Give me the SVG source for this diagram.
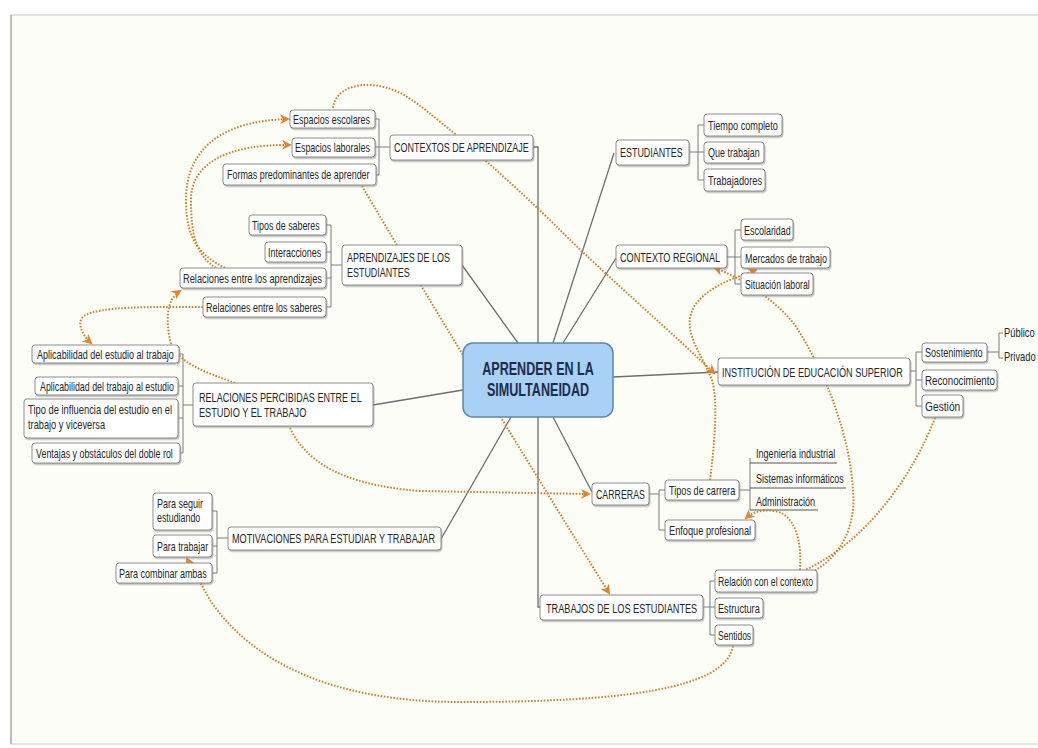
<svg xmlns="http://www.w3.org/2000/svg" width="1038" height="748" viewBox="0 0 1038 748">
<defs>
<style>
.n rect{fill:#fff;stroke:#8c8c8c;stroke-width:1;filter:url(#sh)}
text{font-family:"Liberation Sans",Arial,sans-serif;fill:#262626;font-size:13px}
.br{fill:none;stroke:#7a7a7a;stroke-width:1}
.ul{fill:none;stroke:#555;stroke-width:1}
.ln{fill:none;stroke:#6e6e6e;stroke-width:1.3}
.dt{fill:none;stroke:#c6842f;stroke-width:2;stroke-dasharray:1.6 1.6}
.ar{marker-end:url(#ah)}
.ct{font-size:19px;font-weight:bold;fill:#1c2c4c}
</style>
<filter id="sh" x="-5%" y="-20%" width="115%" height="160%"><feDropShadow dx="1" dy="1.5" stdDeviation="0.7" flood-color="#888" flood-opacity="0.55"/></filter>
<marker id="ah" viewBox="0 0 10 10" refX="8" refY="5" markerWidth="5" markerHeight="5" orient="auto" markerUnits="strokeWidth"><path d="M0,0 L10,5 L0,10 L3,5 Z" fill="#e5822a"/></marker>
</defs>
<rect x="0" y="0" width="1038" height="748" fill="#ffffff"/>
<rect x="11" y="15" width="1040" height="729" fill="#fdfdf8" stroke="#dcdcdc" stroke-width="1.5"/>
<line x1="11" y1="15" x2="11" y2="744" stroke="#bdbdbd" stroke-width="2"/>

<g id="connectors">
<path class="ln" d="M533,147 H538 V607 H540"/>
<path class="ln" d="M462,265 L518,343"/>
<path class="ln" d="M614,153 L553,343"/>
<path class="ln" d="M616,258 L563,343"/>
<path class="ln" d="M373,405 L463,390"/>
<path class="ln" d="M613,377 L718,372"/>
<path class="ln" d="M441,539 L511,417"/>
<path class="ln" d="M553,417 L592,492"/>

<path class="br" d="M375,119 H379 V175 H376 M375,147 H390"/>
<path class="br" d="M326,225 H331 V307 H326 M326,252 H331 M326,278 H331 M331,265 H342"/>
<path class="br" d="M179,354 H183 V453 H180 M178,386 H183 M178,418 H183 M183,405 H193"/>
<path class="br" d="M212,511 H217 V573 H212 M212,546 H217 M217,538 H228"/>
<path class="br" d="M689,152 H704 M704,125 H698 V180 H704"/>
<path class="br" d="M727,257 H741 M741,230 H735 V284 H741"/>
<path class="br" d="M910,371 H916 M922,352 H916 V406 H922 M916,380 H922"/>
<path class="br" d="M987,352 H999 M1003,333 H999 V358 H1003"/>
<path class="br" d="M649,494 H659 M665,490 H659 V530 H665"/>
<path class="br" d="M739,490 H750 M750,458 V510"/>
<path class="ul" d="M750,463 H837 M750,488 H846 M750,510 H818"/>
<path class="br" d="M703,607 H715 M715,581 H710 V635 H715"/>

<path class="dt ar" d="M333,108 C336,82 378,76 412,100 S520,190 560,230 S680,340 714,373"/>
<path class="dt ar" d="M225,268 C200,255 186,240 186,200 C186,150 220,121 288,119"/>
<path class="dt ar" d="M216,268 C196,255 191,235 191,200 C191,162 230,144 290,145"/>
<path class="dt ar" d="M235,383 C205,372 175,362 170,340 C166,320 166,300 180,291"/>
<path class="dt ar" d="M203,307 C150,307 100,306 84,316 C76,322 82,335 91,343"/>
<path class="dt ar" d="M362,186 C420,285 520,450 609,593"/>
<path class="dt ar" d="M290,428 C305,460 340,485 420,491 L589,494"/>
<path class="dt ar" d="M733,646 C725,690 620,702 460,702 C330,702 250,660 210,600 L187,559"/>
<path class="dt ar" d="M812,572 C845,555 856,520 853,490 C850,440 830,380 795,325 C775,300 745,280 715,268"/>
<path class="dt" d="M935,418 C915,470 870,540 805,570"/>
<path class="dt ar" d="M800,570 C802,540 795,515 775,511 C760,509 752,513 746,518"/>
<path class="dt ar" d="M710,480 C715,440 718,400 712,380 C700,350 680,330 695,305 C710,285 735,278 756,270"/>
</g>

<g id="n-central"><rect x="463" y="343" width="150" height="74" rx="10" fill="#a9d1f5" stroke="#5f87ad" stroke-width="1.5"/>
<text class="ct" transform="translate(538,375) scale(.72,1)" text-anchor="middle" textLength="155" lengthAdjust="spacingAndGlyphs">APRENDER EN LA</text>
<text class="ct" transform="translate(538,396) scale(.72,1)" text-anchor="middle" textLength="142" lengthAdjust="spacingAndGlyphs">SIMULTANEIDAD</text></g>

<g id="n-contextos" class="n"><rect x="390" y="135" width="143" height="25" rx="3"/><text transform="translate(394,152) scale(.72,1)" textLength="187" lengthAdjust="spacingAndGlyphs">CONTEXTOS DE APRENDIZAJE</text></g>
<g id="n-esc" class="n"><rect x="290" y="110" width="85" height="18" rx="3"/><text transform="translate(293,124) scale(.72,1)" textLength="107" lengthAdjust="spacingAndGlyphs">Espacios escolares</text></g>
<g id="n-lab" class="n"><rect x="292" y="138" width="83" height="19" rx="3"/><text transform="translate(295,152) scale(.72,1)" textLength="104" lengthAdjust="spacingAndGlyphs">Espacios laborales</text></g>
<g id="n-formas" class="n"><rect x="223" y="164" width="153" height="21" rx="3"/><text transform="translate(227,179) scale(.72,1)" textLength="198" lengthAdjust="spacingAndGlyphs">Formas predominantes de aprender</text></g>

<g id="n-aprend" class="n"><rect x="342" y="245" width="120" height="40" rx="3"/><text transform="translate(347,262) scale(.72,1)" textLength="143" lengthAdjust="spacingAndGlyphs">APRENDIZAJES DE LOS</text><text transform="translate(347,277) scale(.72,1)" textLength="87" lengthAdjust="spacingAndGlyphs">ESTUDIANTES</text></g>
<g id="n-tipos" class="n"><rect x="249" y="215" width="77" height="20" rx="3"/><text transform="translate(252,229.5) scale(.72,1)" textLength="94" lengthAdjust="spacingAndGlyphs">Tipos de saberes</text></g>
<g id="n-inter" class="n"><rect x="265" y="242" width="61" height="20" rx="3"/><text transform="translate(268,256.5) scale(.72,1)" textLength="74" lengthAdjust="spacingAndGlyphs">Interacciones</text></g>
<g id="n-relap" class="n"><rect x="180" y="268" width="146" height="20" rx="3"/><text transform="translate(183,282.5) scale(.72,1)" textLength="193" lengthAdjust="spacingAndGlyphs">Relaciones entre los aprendizajes</text></g>
<g id="n-relsab" class="n"><rect x="203" y="297" width="123" height="20" rx="3"/><text transform="translate(206,311.5) scale(.72,1)" textLength="161" lengthAdjust="spacingAndGlyphs">Relaciones entre los saberes</text></g>

<g id="n-relper" class="n"><rect x="193" y="383" width="180" height="43" rx="3"/><text transform="translate(199,402) scale(.72,1)" textLength="226" lengthAdjust="spacingAndGlyphs">RELACIONES PERCIBIDAS ENTRE EL</text><text transform="translate(199,417) scale(.72,1)" textLength="149" lengthAdjust="spacingAndGlyphs">ESTUDIO Y EL TRABAJO</text></g>
<g id="n-apl1" class="n"><rect x="32" y="345" width="147" height="18" rx="3"/><text transform="translate(37,358.5) scale(.72,1)" textLength="190" lengthAdjust="spacingAndGlyphs">Aplicabilidad del estudio al trabajo</text></g>
<g id="n-apl2" class="n"><rect x="35" y="377" width="143" height="18" rx="3"/><text transform="translate(40,390.5) scale(.72,1)" textLength="186" lengthAdjust="spacingAndGlyphs">Aplicabilidad del trabajo al estudio</text></g>
<g id="n-tipoinf" class="n"><rect x="24" y="399" width="154" height="39" rx="3"/><text transform="translate(28,413.5) scale(.72,1)" textLength="200" lengthAdjust="spacingAndGlyphs">Tipo de influencia del estudio en el</text><text transform="translate(28,428.5) scale(.72,1)" textLength="107" lengthAdjust="spacingAndGlyphs">trabajo y viceversa</text></g>
<g id="n-vent" class="n"><rect x="32" y="443" width="148" height="20" rx="3"/><text transform="translate(36,457.5) scale(.72,1)" textLength="190" lengthAdjust="spacingAndGlyphs">Ventajas y obstáculos del doble rol</text></g>

<g id="n-motiv" class="n"><rect x="228" y="527" width="213" height="23" rx="3"/><text transform="translate(232,543) scale(.72,1)" textLength="282" lengthAdjust="spacingAndGlyphs">MOTIVACIONES PARA ESTUDIAR Y TRABAJAR</text></g>
<g id="n-seguir" class="n"><rect x="153" y="493" width="59" height="37" rx="3"/><text transform="translate(157,507.5) scale(.72,1)" textLength="64" lengthAdjust="spacingAndGlyphs">Para seguir</text><text transform="translate(157,521.5) scale(.72,1)" textLength="60" lengthAdjust="spacingAndGlyphs">estudiando</text></g>
<g id="n-ptrab" class="n"><rect x="153" y="535" width="59" height="22" rx="3"/><text transform="translate(157,550.5) scale(.72,1)" textLength="71" lengthAdjust="spacingAndGlyphs">Para trabajar</text></g>
<g id="n-comb" class="n"><rect x="116" y="563" width="96" height="20" rx="3"/><text transform="translate(119,577.5) scale(.72,1)" textLength="122" lengthAdjust="spacingAndGlyphs">Para combinar ambas</text></g>

<g id="n-estud" class="n"><rect x="616" y="140" width="73" height="25" rx="3"/><text transform="translate(620,157) scale(.72,1)" textLength="87" lengthAdjust="spacingAndGlyphs">ESTUDIANTES</text></g>
<g id="n-tiempo" class="n"><rect x="704" y="114" width="78" height="22" rx="3"/><text transform="translate(708,129.5) scale(.72,1)" textLength="97" lengthAdjust="spacingAndGlyphs">Tiempo completo</text></g>
<g id="n-quetrab" class="n"><rect x="704" y="142" width="60" height="21" rx="3"/><text transform="translate(708,157) scale(.72,1)" textLength="72" lengthAdjust="spacingAndGlyphs">Que trabajan</text></g>
<g id="n-trabaj" class="n"><rect x="704" y="169" width="61" height="22" rx="3"/><text transform="translate(708,184.5) scale(.72,1)" textLength="75" lengthAdjust="spacingAndGlyphs">Trabajadores</text></g>

<g id="n-ctxreg" class="n"><rect x="616" y="245" width="111" height="23" rx="3"/><text transform="translate(620,261.5) scale(.72,1)" textLength="139" lengthAdjust="spacingAndGlyphs">CONTEXTO REGIONAL</text></g>
<g id="n-escol" class="n"><rect x="741" y="219" width="52" height="21" rx="3"/><text transform="translate(744,234.5) scale(.72,1)" textLength="65" lengthAdjust="spacingAndGlyphs">Escolaridad</text></g>
<g id="n-merc" class="n"><rect x="741" y="247" width="89" height="21" rx="3"/><text transform="translate(745,262.5) scale(.72,1)" textLength="114" lengthAdjust="spacingAndGlyphs">Mercados de trabajo</text></g>
<g id="n-sit" class="n"><rect x="741" y="273" width="72" height="22" rx="3"/><text transform="translate(745,288.5) scale(.72,1)" textLength="90" lengthAdjust="spacingAndGlyphs">Situación laboral</text></g>

<g id="n-ies" class="n"><rect x="718" y="358" width="192" height="27" rx="3"/><text transform="translate(722,376.5) scale(.72,1)" textLength="251" lengthAdjust="spacingAndGlyphs">INSTITUCIÓN DE EDUCACIÓN SUPERIOR</text></g>
<g id="n-sost" class="n"><rect x="922" y="343" width="65" height="19" rx="3"/><text transform="translate(925,357) scale(.72,1)" textLength="80" lengthAdjust="spacingAndGlyphs">Sostenimiento</text></g>
<g id="n-recon" class="n"><rect x="922" y="370" width="75" height="20" rx="3"/><text transform="translate(925,384.5) scale(.72,1)" textLength="97" lengthAdjust="spacingAndGlyphs">Reconocimiento</text></g>
<g id="n-gest" class="n"><rect x="922" y="395" width="41" height="22" rx="3"/><text transform="translate(925,410.5) scale(.72,1)" textLength="49" lengthAdjust="spacingAndGlyphs">Gestión</text></g>
<g id="n-publico"><text transform="translate(1004,337) scale(.72,1)">Público</text></g>
<g id="n-privado"><text transform="translate(1004,361) scale(.72,1)">Privado</text></g>

<g id="n-carreras" class="n"><rect x="592" y="483" width="57" height="22" rx="3"/><text transform="translate(596,498.5) scale(.72,1)" textLength="68" lengthAdjust="spacingAndGlyphs">CARRERAS</text></g>
<g id="n-tiposc" class="n"><rect x="665" y="480" width="74" height="20" rx="3"/><text transform="translate(669,494.5) scale(.72,1)" textLength="92" lengthAdjust="spacingAndGlyphs">Tipos de carrera</text></g>
<g id="n-enfoque" class="n"><rect x="665" y="520" width="90" height="20" rx="3"/><text transform="translate(669,534.5) scale(.72,1)" textLength="114" lengthAdjust="spacingAndGlyphs">Enfoque profesional</text></g>
<g id="n-ing"><text transform="translate(756,458) scale(.72,1)" textLength="110" lengthAdjust="spacingAndGlyphs">Ingeniería industrial</text></g>
<g id="n-sis"><text transform="translate(756,483) scale(.72,1)" textLength="122" lengthAdjust="spacingAndGlyphs">Sistemas informáticos</text></g>
<g id="n-adm"><text transform="translate(756,506) scale(.72,1)" textLength="82" lengthAdjust="spacingAndGlyphs">Administración</text></g>

<g id="n-trabest" class="n"><rect x="540" y="595" width="163" height="25" rx="3"/><text transform="translate(546,612.5) scale(.72,1)" textLength="210" lengthAdjust="spacingAndGlyphs">TRABAJOS DE LOS ESTUDIANTES</text></g>
<g id="n-relctx" class="n"><rect x="715" y="570" width="102" height="22" rx="3"/><text transform="translate(718,585.5) scale(.72,1)" textLength="132" lengthAdjust="spacingAndGlyphs">Relación con el contexto</text></g>
<g id="n-estr" class="n"><rect x="715" y="598" width="48" height="20" rx="3"/><text transform="translate(718,612.5) scale(.72,1)" textLength="58" lengthAdjust="spacingAndGlyphs">Estructura</text></g>
<g id="n-sent" class="n"><rect x="715" y="625" width="38" height="20" rx="3"/><text transform="translate(718,639.5) scale(.72,1)" textLength="46" lengthAdjust="spacingAndGlyphs">Sentidos</text></g>
</svg>
